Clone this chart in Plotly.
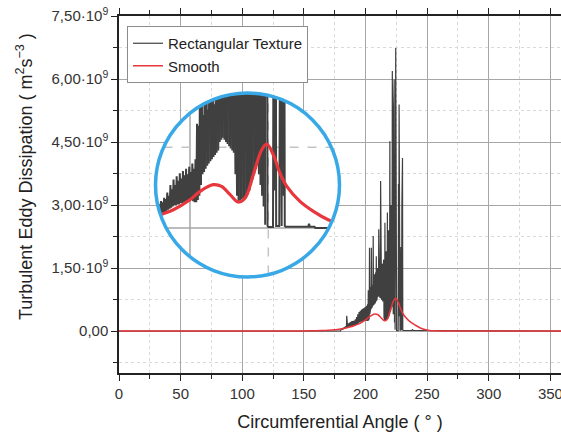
import numpy as np
import plotly.graph_objects as go

# ---------------- data ----------------
# Smooth case (values in units of 1e9 m^2 s^-3)
smooth_angle = [0, 140, 150, 160, 165, 170, 175, 180, 184, 188, 191, 194.7, 200, 203.2,
                207.4, 210.1, 212.8, 215.4, 217.6, 220.2, 222.9, 224.5, 226.6, 228.7,
                230.9, 235.1, 239.4, 244.1, 248, 252, 256, 260, 360]
smooth_e9 = [0, 0, 0.002, 0.008, 0.013, 0.02, 0.03, 0.045, 0.07, 0.10, 0.13, 0.17, 0.263, 0.341,
             0.403, 0.387, 0.31, 0.242, 0.279, 0.496, 0.728, 0.781, 0.681, 0.511,
             0.387, 0.248, 0.155, 0.077, 0.035, 0.012, 0.003, 0.0, 0.0]

# Rectangular texture: sampled every 0.25 deg from 180 to 240 deg (units of 1e9)
texture_start = 180.0
texture_step = 0.25
texture_e9 = [
    0.03, 0.06, 0.03, 0.06, 0.03, 0.07, 0.04, 0.07,   # 180
    0.04, 0.08, 0.04, 0.09, 0.05, 0.10, 0.05, 0.11,   # 182
    0.06, 0.12, 0.07, 0.36, 0.08, 0.15, 0.08, 0.16,   # 184
    0.09, 0.17, 0.09, 0.18, 0.10, 0.19, 0.10, 0.20,   # 186
    0.11, 0.21, 0.11, 0.22, 0.12, 0.23, 0.12, 0.24,   # 188
    0.13, 0.22, 0.14, 0.25, 0.14, 0.24, 0.15, 0.28,   # 190
    0.15, 0.27, 0.16, 0.33, 0.17, 0.30, 0.18, 0.40,   # 192
    0.19, 0.36, 0.20, 0.45, 0.21, 0.40, 0.21, 0.48,   # 194
    0.22, 0.44, 0.22, 0.51, 0.23, 0.46, 0.23, 0.53,   # 196
    0.24, 0.49, 0.24, 0.55, 0.25, 0.50, 0.25, 0.57,   # 198
    0.25, 0.52, 0.26, 0.60, 0.25, 0.55, 0.24, 0.64,   # 200
    0.24, 0.97, 0.26, 0.95, 0.30, 1.98, 0.40, 1.30,   # 202
    0.50, 1.05, 0.52, 1.98, 0.55, 1.30, 0.58, 1.10,   # 204
    0.60, 2.26, 0.62, 1.25, 0.64, 1.35, 0.66, 1.15,   # 206
    0.68, 1.40, 0.70, 1.78, 0.72, 1.30, 0.80, 1.50,   # 208
    0.82, 1.35, 0.84, 2.42, 0.82, 1.45, 0.80, 1.30,   # 210
    0.78, 3.57, 0.76, 2.06, 0.74, 1.40, 0.72, 1.60,   # 212
    0.70, 1.50, 0.50, 1.70, 0.30, 1.40, 0.24, 2.58,   # 214
    0.26, 1.60, 0.27, 1.90, 0.28, 1.70, 0.29, 2.82,   # 216
    0.30, 2.00, 0.32, 2.40, 0.35, 2.10, 0.40, 4.52,   # 218
    0.45, 2.60, 0.50, 3.00, 0.55, 0.90, 0.60, 6.19,   # 220
    0.50, 3.20, 0.40, 5.20, 0.30, 5.99, 0.20, 3.50,   # 222
    0.03, 3.20, 6.74, 0.02, 0.01, 0.01, 0.01, 0.01,   # 224
    0.01, 0.01, 0.01, 3.50, 0.35, 5.39, 0.02, 0.02,   # 226
    0.02, 0.02, 0.02, 2.00, 0.10, 0.02, 3.00, 0.30,   # 228
    4.12, 0.02, 0.012, 0.012, 0.012, 0.012, 0.012, 0.012,  # 230
    0.012, 0.012, 0.012, 0.012, 0.012, 0.012, 0.012, 0.012,  # 232
    0.012, 0.012, 0.012, 0.012, 0.012, 0.012, 0.012, 0.012,  # 234
    0.012, 0.012, 0.012, 0.012, 0.012, 0.012, 0.012, 0.012,  # 236
    0.04, 0.012, 0.012, 0.012, 0.012, 0.012, 0.012, 0.012,   # 238
    0.0,                                                     # 240
]
texture_outer_angle_lo = [0, 179.75]
texture_outer_angle_hi = [240.25, 360]

x_tick_step = 50
x_minor_step = 25
y_tick_vals_e9 = [0, 1.5, 3.0, 4.5, 6.0, 7.5]
y_tick_text = ["0,00", "1,50·10<sup>9</sup>", "3,00·10<sup>9</sup>",
               "4,50·10<sup>9</sup>", "6,00·10<sup>9</sup>", "7,50·10<sup>9</sup>"]
y_minor_step_e9 = 0.75

series_names = ["Rectangular Texture", "Smooth"]
x_title = "Circumferential Angle ( ° )"
y_title = "Turbulent Eddy Dissipation ( m<sup>2</sup>s<sup>−3</sup> )"

# ---------------- build arrays ----------------
E9 = 1e9
tex_grid = np.round(texture_start + texture_step * np.arange(len(texture_e9)), 3)
texture_angle = np.concatenate([texture_outer_angle_lo, tex_grid, texture_outer_angle_hi])
texture_val = np.concatenate([[0, 0], np.array(texture_e9) * E9, [0, 0]])
smooth_x = np.array(smooth_angle, float)
smooth_val = np.array(smooth_e9) * E9

# ---------------- layout geometry ----------------
W, H = 561, 432
ML, MR, MT, MB = 119, 0, 16, 59
PW, PH = W - ML - MR, H - MT - MB
x_range = [0, 358.6]
y_range = [-1.0e9, 7.5e9]

# inset (magnified view inside a circle)
INS_L, INS_T, INS_S = 155.5, 93.0, 184.0
inset_x_range = [188.99, 247.72]
inset_y_range = [-0.455e9, 1.255e9]
dom_x = [(INS_L - ML) / PW, (INS_L + INS_S - ML) / PW]
dom_y = [(H - MB - (INS_T + INS_S)) / PH, (H - MB - INS_T) / PH]
xc = sum(inset_x_range) / 2
yc = sum(inset_y_range) / 2
rx = (inset_x_range[1] - inset_x_range[0]) / 2
ry = (inset_y_range[1] - inset_y_range[0]) / 2


def clip_to_circle(xs, ys):
    """Clip a polyline to the inset circle (ellipse in data coordinates)."""
    u = (np.asarray(xs, float) - xc) / rx
    v = (np.asarray(ys, float) - yc) / ry
    ox, oy = [], []
    cont = False
    for i in range(len(u) - 1):
        p0 = np.array([u[i], v[i]])
        d = np.array([u[i + 1] - u[i], v[i + 1] - v[i]])
        a = d @ d
        if a == 0:
            continue
        b = 2 * p0 @ d
        c = p0 @ p0 - 1
        disc = b * b - 4 * a * c
        if disc <= 0:
            cont = False
            continue
        s = np.sqrt(disc)
        ta = max(0.0, (-b - s) / (2 * a))
        tb = min(1.0, (-b + s) / (2 * a))
        if ta >= tb:
            cont = False
            continue
        if not (cont and ta == 0.0):
            if ox:
                ox.append(None)
                oy.append(None)
            pa = p0 + ta * d
            ox.append(xc + pa[0] * rx)
            oy.append(yc + pa[1] * ry)
        pb = p0 + tb * d
        ox.append(xc + pb[0] * rx)
        oy.append(yc + pb[1] * ry)
        cont = tb == 1.0
    return ox, oy


GRAY = "#404040"
RED = "#E8373C"
BLUE = "#38A9E6"
FONT = "Liberation Sans, Arial, sans-serif"

fig = go.Figure()
fig.add_trace(go.Scatter(x=texture_angle, y=texture_val, mode="lines", name=series_names[0],
                         line=dict(color=GRAY, width=1.2)))
fig.add_trace(go.Scatter(x=smooth_x, y=smooth_val, mode="lines", name=series_names[1],
                         line=dict(color=RED, width=1.5, shape="spline")))

ix, iy = clip_to_circle(texture_angle, texture_val)
fig.add_trace(go.Scatter(x=ix, y=iy, mode="lines", showlegend=False, hoverinfo="skip",
                         line=dict(color=GRAY, width=2.0), xaxis="x2", yaxis="y2"))
sx, sy = clip_to_circle(smooth_x, smooth_val)
fig.add_trace(go.Scatter(x=sx, y=sy, mode="lines", showlegend=False, hoverinfo="skip",
                         line=dict(color=RED, width=3.2, shape="spline"), xaxis="x2", yaxis="y2"))

shapes = [dict(type="circle", xref="x2", yref="y2", layer="below",
               x0=inset_x_range[0], x1=inset_x_range[1], y0=inset_y_range[0], y1=inset_y_range[1],
               fillcolor="white", line=dict(width=0))]

MAJOR_GRID = "#a6a6a6"
MINOR_GRID = "#d9d9d9"

# inset grid lines (magnified copies of the main grid), clipped to the circle
for gx in np.arange(0, 361, x_minor_step):
    uu = (gx - xc) / rx
    if abs(uu) < 1:
        hh = np.sqrt(1 - uu * uu)
        major = gx % x_tick_step == 0
        shapes.append(dict(type="line", xref="x2", yref="y2", layer="below",
                           x0=gx, x1=gx, y0=yc - ry * hh, y1=yc + ry * hh,
                           line=dict(color=MAJOR_GRID if major else "#c4c4c4", width=1.5,
                                     dash="solid" if major else "dash")))
for gy in np.arange(-1.5, 7.6, y_minor_step_e9) * E9:
    vv = (gy - yc) / ry
    if abs(vv) < 1:
        ww = np.sqrt(1 - vv * vv)
        major = abs((gy / E9) % 1.5) < 1e-9
        shapes.append(dict(type="line", xref="x2", yref="y2", layer="below",
                           x0=xc - rx * ww, x1=xc + rx * ww, y0=gy, y1=gy,
                           line=dict(color=MAJOR_GRID if major else "#c4c4c4", width=1.5,
                                     dash="solid" if major else "dash")))

shapes.append(dict(type="circle", xref="paper", yref="paper", layer="above",
                   x0=dom_x[0], x1=dom_x[1], y0=dom_y[0], y1=dom_y[1],
                   fillcolor="rgba(0,0,0,0)", line=dict(color=BLUE, width=3.5)))

fig.update_layout(
    width=W, height=H, autosize=False,
    margin=dict(l=ML, r=MR, t=MT, b=MB, pad=0, autoexpand=False),
    paper_bgcolor="white", plot_bgcolor="rgba(0,0,0,0)",
    font=dict(family=FONT, size=15, color="#333333"),
    showlegend=True,
    legend=dict(x=(127 - ML) / PW, y=(H - MB - 26) / PH, xanchor="left", yanchor="top",
                bgcolor="white", bordercolor="#8c8c8c", borderwidth=1,
                font=dict(size=15, color="#222222"), tracegroupgap=0),
    xaxis=dict(range=x_range, tickmode="linear", tick0=0, dtick=x_tick_step, automargin=False,
               ticks="outside", ticklen=6, tickwidth=1.3, tickcolor="#222",
               showline=True, linecolor="#222", linewidth=1.5, mirror="ticks",
               showgrid=True, gridcolor=MAJOR_GRID, gridwidth=1, zeroline=False,
               ticklabeloverflow="allow",
               tickfont=dict(size=15, color="#333"),
               minor=dict(tickmode="linear", tick0=0, dtick=x_minor_step, ticks="outside",
                          ticklen=4, tickwidth=1.2, tickcolor="#222",
                          showgrid=True, gridcolor=MINOR_GRID, griddash="dot", gridwidth=1),
               title=dict(text=x_title, font=dict(size=18, color="#222"), standoff=20)),
    yaxis=dict(range=y_range, tickmode="array", automargin=False,
               tickvals=[v * E9 for v in y_tick_vals_e9], ticktext=y_tick_text,
               ticks="outside", ticklen=6, tickwidth=1.3, tickcolor="#222",
               showline=True, linecolor="#222", linewidth=1.5,
               showgrid=True, gridcolor=MAJOR_GRID, gridwidth=1, zeroline=False,
               tickfont=dict(size=15, color="#333"),
               minor=dict(tickmode="linear", tick0=0, dtick=y_minor_step_e9 * E9, ticks="outside",
                          ticklen=4, tickwidth=1.2, tickcolor="#222",
                          showgrid=True, gridcolor=MINOR_GRID, griddash="dot", gridwidth=1)),
    xaxis2=dict(domain=dom_x, range=inset_x_range, visible=False, anchor="y2"),
    yaxis2=dict(domain=dom_y, range=inset_y_range, visible=False, anchor="x2"),
    shapes=shapes,
    annotations=[dict(text=y_title, textangle=-90, xref="paper", yref="paper",
                      x=(25 - ML) / PW, y=(H - MB - 177) / PH, xanchor="center", yanchor="middle",
                      showarrow=False, font=dict(size=18, color="#222"))],
)

fig.write_html("out.html", config={"displayModeBar": False},
               post_script="document.body.style.margin='0';document.body.style.padding='0';")
